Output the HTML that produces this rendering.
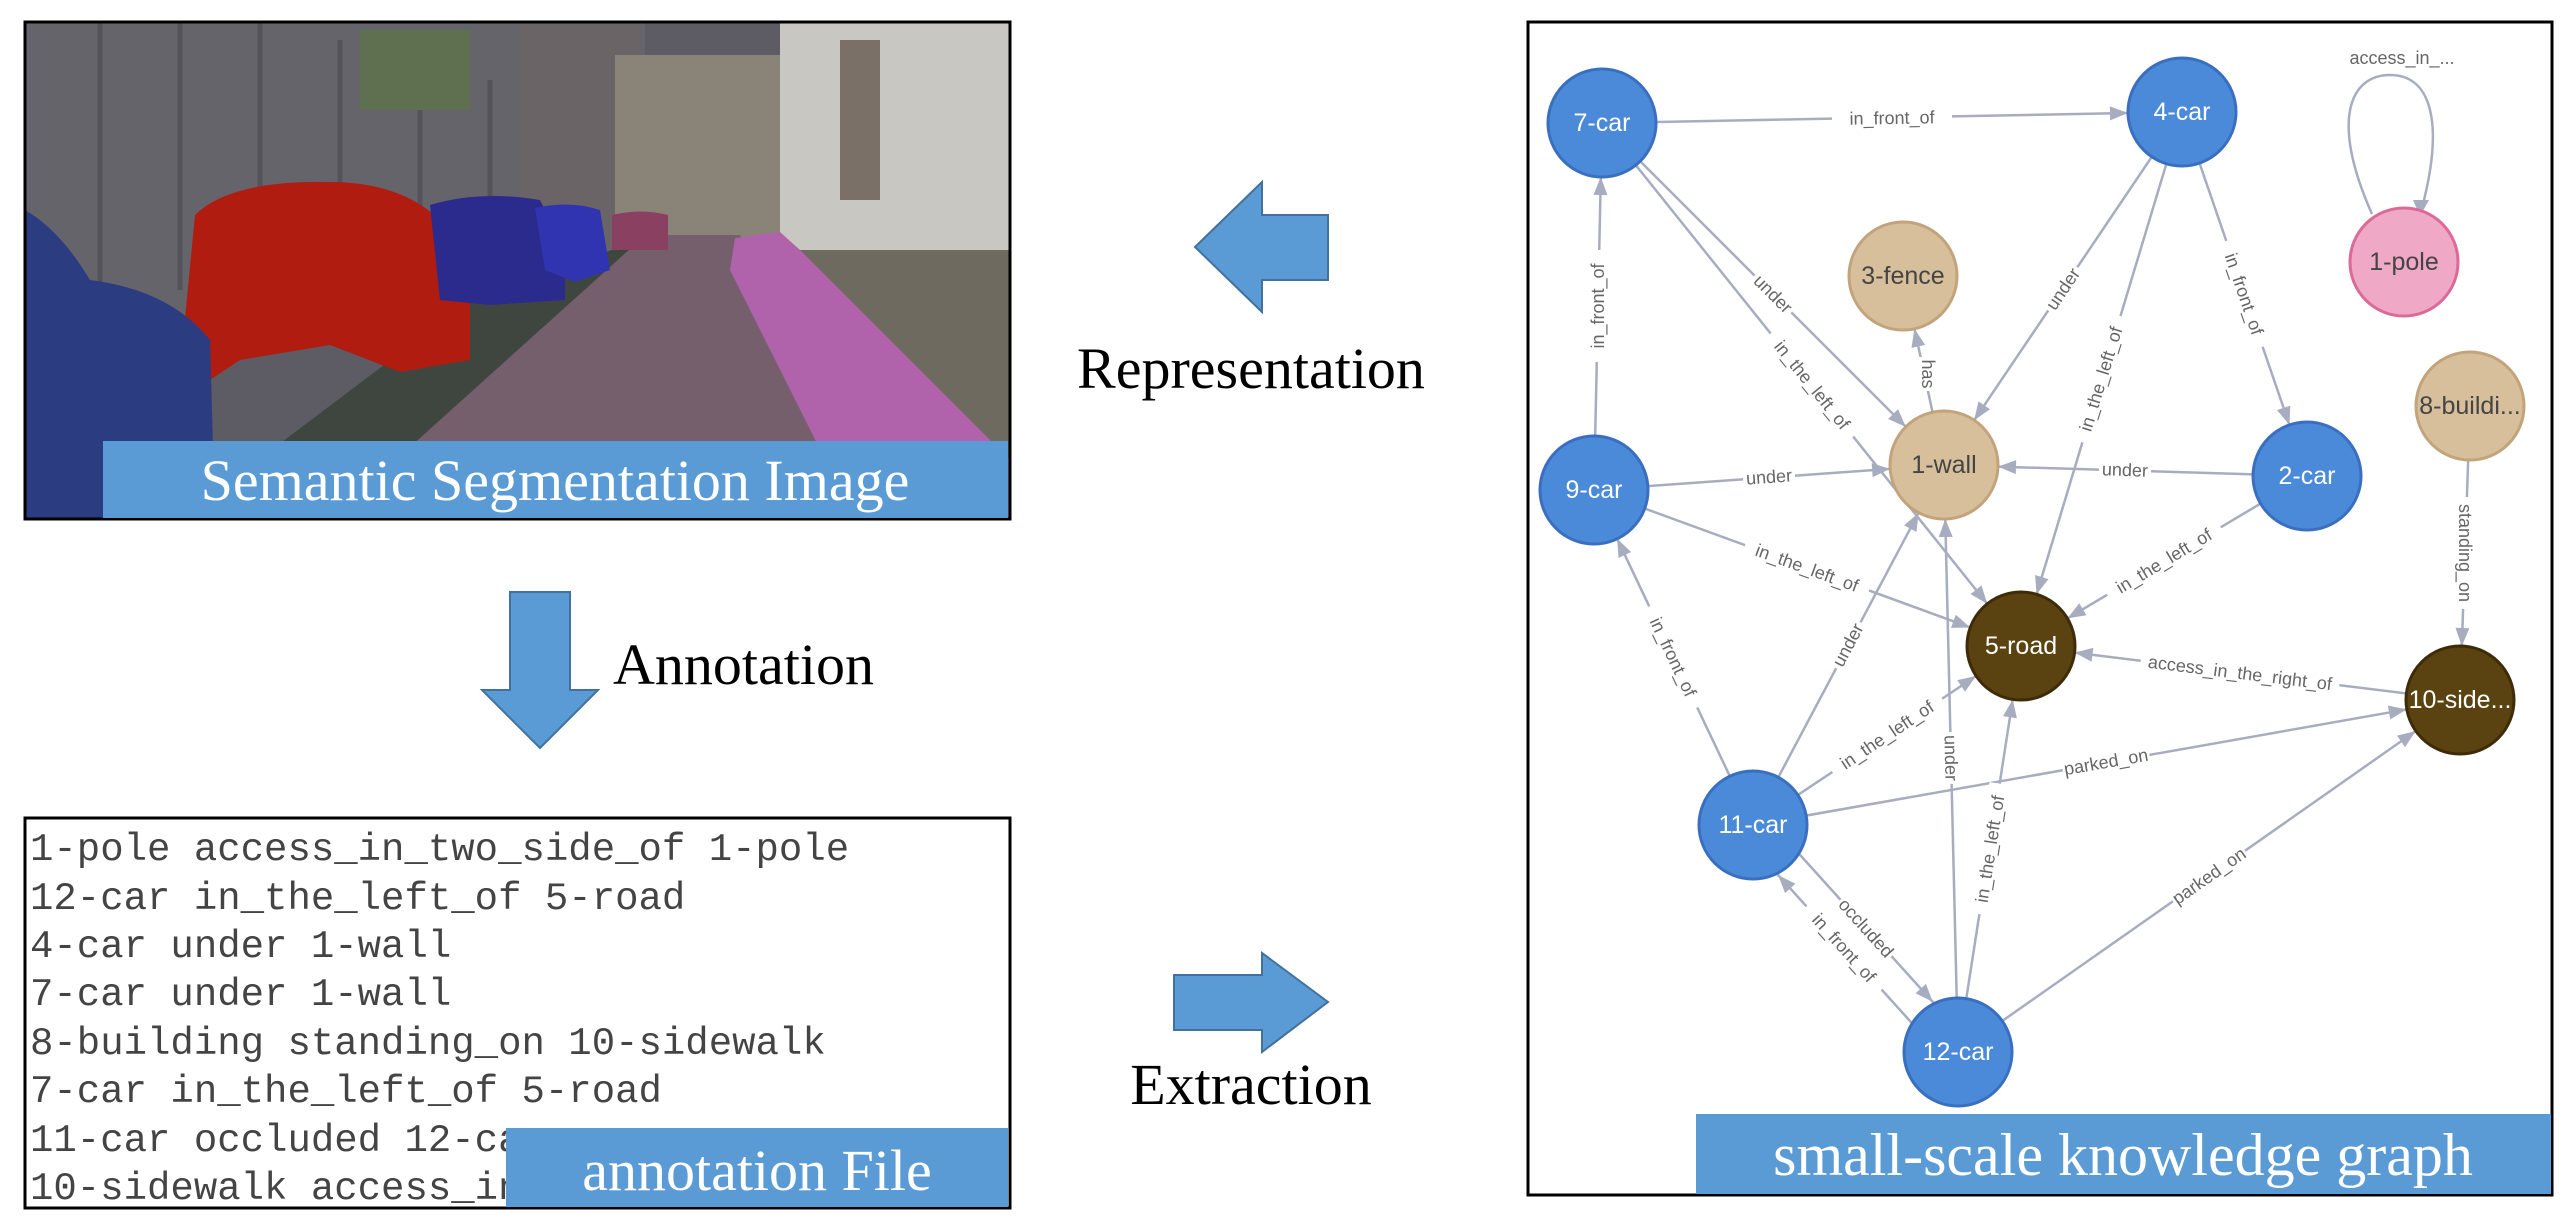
<!DOCTYPE html>
<html><head><meta charset="utf-8"><style>
html,body{margin:0;padding:0;background:#fff;}
svg{display:block;}
</style></head><body>
<svg width="2576" height="1221" viewBox="0 0 2576 1221" xmlns="http://www.w3.org/2000/svg">
<defs>
<marker id="ah" markerUnits="userSpaceOnUse" markerWidth="80" markerHeight="14" refX="72" refY="7" orient="auto" viewBox="0 0 80 14" style="overflow:visible">
<path d="M0,0 L18,7 L0,14 z" fill="#a7adbf"/>
</marker>
<clipPath id="ph"><rect x="25" y="22" width="985" height="497"/></clipPath>
</defs>

<!-- Photo -->
<g clip-path="url(#ph)">
<rect x="25" y="22" width="985" height="497" fill="#5d5b63"/>
<rect x="25" y="22" width="620" height="300" fill="#66646b"/>
<g stroke="#55535a" stroke-width="5">
<line x1="100" y1="22" x2="100" y2="300"/><line x1="180" y1="22" x2="180" y2="290"/><line x1="260" y1="22" x2="260" y2="280"/><line x1="340" y1="40" x2="340" y2="270"/><line x1="420" y1="60" x2="420" y2="260"/><line x1="490" y1="80" x2="490" y2="250"/>
</g>
<rect x="360" y="30" width="110" height="80" fill="#5f7050"/>
<rect x="520" y="22" width="120" height="280" fill="#6b6466"/>
<rect x="615" y="55" width="170" height="220" fill="#8a8478"/>
<rect x="780" y="22" width="230" height="300" fill="#c9c7c2"/>
<rect x="840" y="40" width="40" height="160" fill="#7a7068"/>
<rect x="780" y="250" width="230" height="230" fill="#6f6a60"/>
<polygon points="330,519 640,235 740,235 870,519" fill="#765f6c"/>
<polygon points="735,238 780,232 800,250 1010,460 1010,519 855,519 730,270" fill="#b063ab"/>
<polygon points="180,519 330,519 640,240 470,300" fill="#3f4640"/>
<path d="M180,370 L195,215 Q230,180 330,182 Q400,182 440,220 L470,300 L470,360 L400,372 L330,345 L240,360 L210,380 Z" fill="#b01c10"/>
<path d="M430,205 Q480,190 540,200 L565,250 L565,300 L490,305 L440,300 Z" fill="#2a2b8c"/>
<path d="M535,208 Q570,200 600,210 L610,270 L575,282 L545,270 Z" fill="#3134b0"/>
<path d="M612,215 Q640,208 668,215 L668,250 L612,250 Z" fill="#8a4060"/>
<path d="M25,210 Q60,230 90,280 Q170,290 210,340 L215,519 L25,519 Z" fill="#2c3c80"/>
<ellipse cx="630" cy="510" rx="25" ry="25" fill="#3d4038"/>
</g>
<rect x="25" y="22" width="985" height="497" fill="none" stroke="#000" stroke-width="3"/>
<rect x="103" y="441" width="905" height="77" fill="#5b9bd5"/>
<text x="555" y="500" font-family="Liberation Serif, serif" font-size="58" fill="#fff" text-anchor="middle">Semantic Segmentation Image</text>

<!-- Representation arrow -->
<polygon points="1195,247 1262,182 1262,215 1328,215 1328,280 1262,280 1262,312" fill="#5b9bd5" stroke="#41719c" stroke-width="2"/>
<text x="1251" y="388" font-family="Liberation Serif, serif" font-size="58" fill="#000" text-anchor="middle">Representation</text>

<!-- Annotation arrow -->
<polygon points="510,592 570,592 570,690 598,690 540,748 482,690 510,690" fill="#5b9bd5" stroke="#41719c" stroke-width="2"/>
<text x="613" y="684" font-family="Liberation Serif, serif" font-size="58" fill="#000">Annotation</text>

<!-- Annotation file -->
<rect x="25" y="818" width="985" height="390" fill="#fff" stroke="#000" stroke-width="3"/>
<g font-family="Liberation Mono, monospace" font-size="39" fill="#444">
<text x="30" y="860">1-pole access_in_two_side_of 1-pole</text>
<text x="30" y="909">12-car in_the_left_of 5-road</text>
<text x="30" y="957">4-car under 1-wall</text>
<text x="30" y="1005">7-car under 1-wall</text>
<text x="30" y="1054">8-building standing_on 10-sidewalk</text>
<text x="30" y="1102">7-car in_the_left_of 5-road</text>
<text x="30" y="1151">11-car occluded 12-car</text>
<text x="30" y="1199">10-sidewalk access_in_the_right_of</text>
</g>
<rect x="506" y="1128" width="502" height="79" fill="#5b9bd5"/>
<text x="757" y="1190" font-family="Liberation Serif, serif" font-size="58" fill="#fff" text-anchor="middle">annotation File</text>

<!-- Extraction arrow -->
<polygon points="1174,975 1262,975 1262,953 1328,1002 1262,1052 1262,1030 1174,1030" fill="#5b9bd5" stroke="#41719c" stroke-width="2"/>
<text x="1251" y="1104" font-family="Liberation Serif, serif" font-size="58" fill="#000" text-anchor="middle">Extraction</text>

<!-- Graph box -->
<rect x="1528" y="22" width="1024" height="1173" fill="#fff" stroke="#000" stroke-width="3"/>

<g stroke="#a7adbf" stroke-width="2.5" fill="none" marker-end="url(#ah)">
<line x1="1602" y1="123" x2="2182" y2="112"/>
<line x1="1602" y1="123" x2="1944" y2="465"/>
<line x1="1602" y1="123" x2="2021" y2="646"/>
<line x1="2182" y1="112" x2="1944" y2="465"/>
<line x1="2182" y1="112" x2="2021" y2="646"/>
<line x1="2182" y1="112" x2="2307" y2="476"/>
<line x1="1944" y1="465" x2="1903" y2="276"/>
<line x1="1594" y1="490" x2="1602" y2="123"/>
<line x1="1594" y1="490" x2="1944" y2="465"/>
<line x1="2307" y1="476" x2="1944" y2="465"/>
<line x1="1594" y1="490" x2="2021" y2="646"/>
<line x1="2307" y1="476" x2="2021" y2="646"/>
<line x1="2470" y1="406" x2="2460" y2="700"/>
<line x1="2460" y1="700" x2="2021" y2="646"/>
<line x1="1753" y1="825" x2="1594" y2="490"/>
<line x1="1753" y1="825" x2="1944" y2="465"/>
<line x1="1753" y1="825" x2="2021" y2="646"/>
<line x1="1753" y1="825" x2="2460" y2="700"/>
<line x1="1764" y1="815" x2="1969" y2="1042"/>
<line x1="1947" y1="1062" x2="1742" y2="835"/>
<line x1="1958" y1="1052" x2="1944" y2="465"/>
<line x1="1958" y1="1052" x2="2021" y2="646"/>
<line x1="1958" y1="1052" x2="2460" y2="700"/>
</g>
<path d="M2372,214 C2330,120 2350,75 2390,75 C2430,75 2445,120 2422,208" stroke="#a7adbf" stroke-width="2.5" fill="none"/>
<polygon points="2413,200 2429,200 2420,216" fill="#a7adbf"/>

<g font-family="Liberation Sans, sans-serif" font-size="18" fill="#666" text-anchor="middle" dominant-baseline="central">
<g transform="translate(1892,118) rotate(-1)"><rect x="-60" y="-11" width="120" height="22" fill="#fff"/><text>in_front_of</text></g>
<g transform="translate(1773,294) rotate(45)"><rect x="-26" y="-11" width="52" height="22" fill="#fff"/><text>under</text></g>
<g transform="translate(1812,385) rotate(51)"><rect x="-66" y="-11" width="132" height="22" fill="#fff"/><text>in_the_left_of</text></g>
<g transform="translate(2063,289) rotate(-56)"><rect x="-26" y="-11" width="52" height="22" fill="#fff"/><text>under</text></g>
<g transform="translate(2101,379) rotate(-73)"><rect x="-66" y="-11" width="132" height="22" fill="#fff"/><text>in_the_left_of</text></g>
<g transform="translate(2244,294) rotate(71)"><rect x="-56" y="-11" width="112" height="22" fill="#fff"/><text>in_front_of</text></g>
<g transform="translate(1928,374) rotate(90)"><rect x="-17" y="-11" width="34" height="22" fill="#fff"/><text>has</text></g>
<g transform="translate(1598,306) rotate(-90)"><rect x="-56" y="-11" width="112" height="22" fill="#fff"/><text>in_front_of</text></g>
<g transform="translate(1769,477) rotate(-4)"><rect x="-26" y="-11" width="52" height="22" fill="#fff"/><text>under</text></g>
<g transform="translate(2125,470) rotate(2)"><rect x="-26" y="-11" width="52" height="22" fill="#fff"/><text>under</text></g>
<g transform="translate(1807,568) rotate(20)"><rect x="-66" y="-11" width="132" height="22" fill="#fff"/><text>in_the_left_of</text></g>
<g transform="translate(2164,561) rotate(-31)"><rect x="-66" y="-11" width="132" height="22" fill="#fff"/><text>in_the_left_of</text></g>
<g transform="translate(2465,553) rotate(90)"><rect x="-56" y="-11" width="112" height="22" fill="#fff"/><text>standing_on</text></g>
<g transform="translate(2240,673) rotate(7)"><rect x="-100" y="-11" width="200" height="22" fill="#fff"/><text>access_in_the_right_of</text></g>
<g transform="translate(1673,657) rotate(64.6)"><rect x="-56" y="-11" width="112" height="22" fill="#fff"/><text>in_front_of</text></g>
<g transform="translate(1848,645) rotate(-62)"><rect x="-26" y="-11" width="52" height="22" fill="#fff"/><text>under</text></g>
<g transform="translate(1887,735) rotate(-33.7)"><rect x="-66" y="-11" width="132" height="22" fill="#fff"/><text>in_the_left_of</text></g>
<g transform="translate(2106,762) rotate(-10)"><rect x="-44" y="-11" width="88" height="22" fill="#fff"/><text>parked_on</text></g>
<g transform="translate(1866,928) rotate(48)"><rect x="-38" y="-11" width="76" height="22" fill="#fff"/><text>occluded</text></g>
<g transform="translate(1844,948) rotate(48)"><rect x="-56" y="-11" width="112" height="22" fill="#fff"/><text>in_front_of</text></g>
<g transform="translate(1951,758) rotate(88.6)"><rect x="-26" y="-11" width="52" height="22" fill="#fff"/><text>under</text></g>
<g transform="translate(1990,849) rotate(-81)"><rect x="-66" y="-11" width="132" height="22" fill="#fff"/><text>in_the_left_of</text></g>
<g transform="translate(2209,876) rotate(-35)"><rect x="-44" y="-11" width="88" height="22" fill="#fff"/><text>parked_on</text></g>
<g transform="translate(2402,58)"><rect x="-60" y="-11" width="120" height="22" fill="#fff"/><text>access_in_...</text></g>
</g>

<g stroke-width="3">
<circle cx="1602" cy="123" r="54" fill="#4a8ad8" stroke="#3a6fbf"/>
<circle cx="2182" cy="112" r="54" fill="#4a8ad8" stroke="#3a6fbf"/>
<circle cx="1594" cy="490" r="54" fill="#4a8ad8" stroke="#3a6fbf"/>
<circle cx="2307" cy="476" r="54" fill="#4a8ad8" stroke="#3a6fbf"/>
<circle cx="1753" cy="825" r="54" fill="#4a8ad8" stroke="#3a6fbf"/>
<circle cx="1958" cy="1052" r="54" fill="#4a8ad8" stroke="#3a6fbf"/>
<circle cx="2404" cy="262" r="54" fill="#efa8c6" stroke="#dc6a98"/>
<circle cx="1903" cy="276" r="54" fill="#d8bf9b" stroke="#c2a37c"/>
<circle cx="1944" cy="465" r="54" fill="#d8bf9b" stroke="#c2a37c"/>
<circle cx="2470" cy="406" r="54" fill="#d8bf9b" stroke="#c2a37c"/>
<circle cx="2021" cy="646" r="54" fill="#5a4211" stroke="#3e2c08"/>
<circle cx="2460" cy="700" r="54" fill="#5a4211" stroke="#3e2c08"/>
</g>
<g font-family="Liberation Sans, sans-serif" font-size="25" text-anchor="middle" dominant-baseline="central">
<text x="1602" y="123" fill="#fff">7-car</text>
<text x="2182" y="112" fill="#fff">4-car</text>
<text x="1594" y="490" fill="#fff">9-car</text>
<text x="2307" y="476" fill="#fff">2-car</text>
<text x="1753" y="825" fill="#fff">11-car</text>
<text x="1958" y="1052" fill="#fff">12-car</text>
<text x="2404" y="262" fill="#444">1-pole</text>
<text x="1903" y="276" fill="#444">3-fence</text>
<text x="1944" y="465" fill="#444">1-wall</text>
<text x="2470" y="406" fill="#444">8-buildi...</text>
<text x="2021" y="646" fill="#fff">5-road</text>
<text x="2460" y="700" fill="#fff">10-side...</text>
</g>

<rect x="1696" y="1114" width="855" height="80" fill="#5b9bd5"/>
<text x="2123" y="1175" font-family="Liberation Serif, serif" font-size="60" fill="#fff" text-anchor="middle">small-scale knowledge graph</text>
</svg>
</body></html>
